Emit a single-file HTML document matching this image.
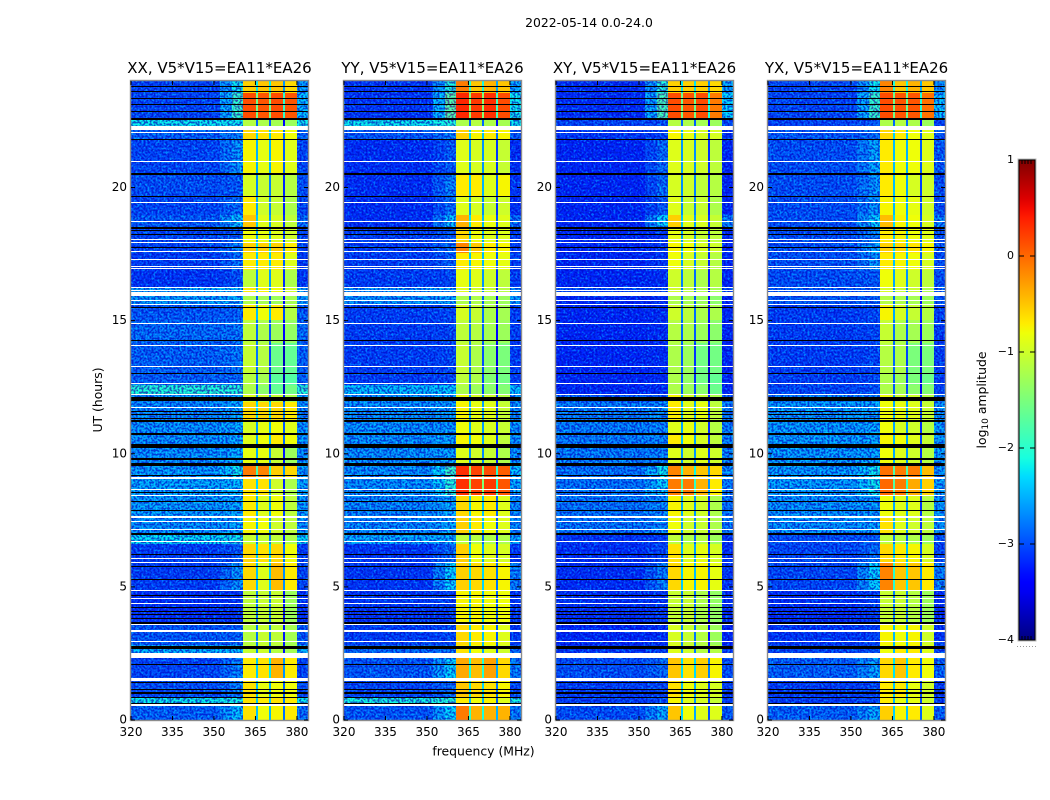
<!DOCTYPE html>
<html lang="en">
<head>
<meta charset="utf-8">
<title>2022-05-14 0.0-24.0</title>
<style>
html,body{margin:0;padding:0;background:#fff;width:1050px;height:800px;overflow:hidden}
svg{display:block}
text{font-family:"DejaVu Sans","Liberation Sans",sans-serif;fill:#000}
</style>
</head>
<body>
<svg id="figure" xmlns="http://www.w3.org/2000/svg" width="1050" height="800" viewBox="0 0 1050 800">
  <defs>
    <filter id="speckle" x="0" y="0" width="100%" height="100%" color-interpolation-filters="sRGB">
      <feTurbulence type="fractalNoise" baseFrequency="0.5" numOctaves="1" seed="7"/>
      <feColorMatrix type="matrix" values="0 0 0 0 0  0 0 0 0 0.32  0 0 0 0 0  6 0 0 0 -2.9"/>
    </filter>
    <filter id="speckle-dark" x="0" y="0" width="100%" height="100%" color-interpolation-filters="sRGB">
      <feTurbulence type="fractalNoise" baseFrequency="0.5" numOctaves="1" seed="23"/>
      <feColorMatrix type="matrix" values="0 0 0 0 1  0 0 0 0 0.35  0 0 0 0 0.85  6 0 0 0 -2.6"/>
    </filter>
    <linearGradient id="jet-gradient" x1="0" y1="1" x2="0" y2="0"></linearGradient>
  </defs>
  <text x="589" y="27" font-size="12.4" text-anchor="middle">2022-05-14 0.0-24.0</text>
  <g id="panels"></g>
  <text x="483.5" y="755.5" font-size="12.4" text-anchor="middle">frequency (MHz)</text>
  <text transform="translate(102,400) rotate(-90)" font-size="12.4" text-anchor="middle">UT (hours)</text>
  <g id="colorbar"></g>
  <text transform="translate(986,400) rotate(-90)" font-size="12.4" text-anchor="middle">log<tspan font-size="9" dy="2">10</tspan><tspan dy="-2"> amplitude</tspan></text>
</svg>
<script>
// ---------- chart data (log10 amplitude) ----------
const panelTitles = ["XX, V5*V15=EA11*EA26","YY, V5*V15=EA11*EA26","XY, V5*V15=EA11*EA26","YX, V5*V15=EA11*EA26"];
const xTickLabels = [320,335,350,365,380];
const yTickLabels = [0,5,10,15,20];
const colorTickLabels = [1,0,-1,-2,-3,-4];

// UT hour at the top of each time band (last entry closes the final band)
const bandHours = [24,23.55,22.54,22.16,21.78,20.54,19.68,18.97,18.48,17.92,17.54,16.9,16.26,16.08,15.62,15.02,14.16,13.03,12.58,12.21,11.94,11.27,10.78,10.25,9.65,9.13,8.45,7.62,6.95,6.61,5.9,4.88,3.57,2.82,2.33,1.5,0.83,0.56,0];

const xxBackground = [-3,-3,-2.2,-2.85,-3,-2.95,-3,-2.9,-3,-3,-3.05,-3.1,-2.5,-2.55,-2.9,-2.8,-2.85,-2.85,-2.1,-2.6,-2.65,-2.6,-2.6,-2.6,-2.55,-2.5,-2.55,-2.6,-2.25,-3.05,-3.05,-3.15,-2.9,-2.45,-3,-2.95,-2.2,-2.85];
const xxEdge = [-2.2,-2,-2.2,-2.7,-2.6,-2.9,-2.8,-2.4,-2.85,-2.7,-2.8,-2.95,-2.45,-2.5,-2.85,-2.75,-2.75,-2.8,-2.1,-2.5,-2.5,-2.5,-2.5,-2.5,-2.2,-2.4,-2.5,-2.5,-2.2,-2.9,-2.6,-3.1,-2.85,-2.4,-2.7,-2.7,-2.15,-2.4];
const xxChannel1 = [-.55,.15,-1.15,-.6,-.75,-.95,-.7,-.5,-.8,-.55,-.7,-1.1,-.7,-1.2,-.7,-1.1,-1.05,-1.15,-1.2,-.9,-.6,-.95,-.9,-.85,-.1,-.65,-.7,-.75,-1.05,-.6,-.6,-1.1,-1.15,-1.05,-.7,-.65,-.65,-.65];
const xxChannel2 = [-.5,.1,-1.2,-.65,-.85,-1.05,-1,-.9,-.85,-.55,-.7,-.9,-.75,-1.25,-.8,-1.2,-1.15,-1.25,-1.4,-1,-.6,-.85,-.8,-.85,-.15,-.65,-.9,-.8,-1.05,-.65,-.9,-1.05,-1.05,-1,-.65,-.85,-.7,-.8];
const xxChannel3 = [-.5,.15,-1.25,-.7,-.75,-1.05,-1.05,-.95,-.9,-.55,-.7,-.9,-.8,-1.3,-.7,-1.3,-1.6,-1.7,-1.65,-1.05,-.6,-.8,-.7,-1.05,-.55,-1,-.8,-1,-1.1,-.6,-.45,-1.05,-1.1,-1.15,-.4,-.8,-.65,-.75];
const xxChannel4 = [-.6,.1,-1.3,-.8,-.9,-1.15,-1.2,-1.1,-1,-.7,-.9,-1.2,-1,-1.25,-1.15,-1.35,-1.65,-1.75,-1.55,-1.2,-.7,-.9,-.8,-1.3,-.6,-1.2,-1.1,-1.1,-1.2,-.8,-.7,-1.3,-1.25,-1.25,-.7,-.8,-.7,-.7];

const yyBackground = [-3.1,-3.1,-2.2,-2.9,-3.15,-3.15,-3.15,-3.15,-3.05,-3.05,-3.05,-3.05,-2.6,-2.6,-3.05,-3.05,-3.05,-3.05,-2.4,-2.6,-2.6,-2.6,-2.6,-2.6,-2.6,-2.6,-2.65,-2.65,-2.5,-3.1,-3.1,-3.1,-3.05,-2.8,-2.9,-3,-2.15,-2.9];
const yyEdge = [-2.1,-1.8,-2.1,-2.7,-2.9,-2.7,-2.8,-2.4,-2.9,-2.8,-2.9,-3,-2.55,-2.55,-3,-3,-3,-3,-2.35,-2.55,-2.55,-2.55,-2.5,-2.5,-2,-2.1,-2.5,-2.5,-2.45,-2.8,-2.3,-3.05,-3,-2.75,-2.3,-2.8,-2.1,-2.3];
const yyChannel1 = [-.1,.35,-1.2,-.55,-.9,-.7,-.9,-.4,-.6,-.15,-.7,-.85,-.9,-1.2,-.95,-1.1,-1.05,-1.1,-1.2,-.8,-.75,-.8,-.75,-.9,.3,.3,-.6,-.55,-1.1,-.55,-.55,-.75,-.6,-.65,-.35,-.5,-.7,-.1];
const yyChannel2 = [-.5,.25,-1.15,-.75,-.95,-.7,-.95,-.7,-.8,-.5,-.75,-.9,-1,-1.2,-1.05,-1.15,-1.2,-1.2,-1.3,-.95,-.85,-.9,-.8,-1,.2,.2,-.75,-.7,-1.15,-.8,-.6,-.75,-.7,-.8,-.45,-.6,-.8,-.4];
const yyChannel3 = [-.4,.3,-1.2,-.7,-.95,-.9,-1.05,-.85,-.9,-.7,-.8,-1,-1.05,-1.25,-1.2,-1.25,-1.4,-1.45,-1.4,-1,-.9,-.95,-.9,-1.05,.15,.25,-.7,-.8,-1.2,-.9,-.65,-.8,-.75,-.9,-.3,-.65,-.75,-.4];
const yyChannel4 = [-.5,.15,-1.25,-.75,-1.05,-.75,-1,-.9,-.9,-.75,-.85,-1.1,-1.15,-1.3,-1.25,-1.3,-1.5,-1.55,-1.45,-1.15,-1.05,-1.05,-1.1,-1.2,.05,.1,-.9,-.9,-1.2,-.95,-.75,-.8,-.9,-1,-.6,-.75,-.9,-.4];

const xyBackground = [-3.15,-3.15,-3,-3.1,-3.2,-3.2,-3.2,-3.2,-3.2,-3.2,-3.2,-3.2,-3,-3.2,-3.2,-3.2,-3.2,-3.2,-3.2,-2.9,-2.7,-2.7,-2.7,-2.7,-2.75,-2.75,-2.75,-2.75,-3.1,-3.15,-3.15,-3.15,-3.2,-3.1,-2.95,-3.05,-3.05,-2.95];
const xyEdge = [-2.1,-1.9,-2.95,-3.05,-2.8,-2.8,-2.9,-2.3,-3.1,-3.1,-3.1,-3.15,-2.95,-3.15,-3.15,-3.15,-3.15,-3.15,-3.15,-2.85,-2.65,-2.65,-2.65,-2.65,-2.2,-2.3,-2.65,-2.65,-3.05,-3,-2.7,-3.1,-3.15,-3.05,-2.8,-3,-3,-2.5];
const xyChannel1 = [-.55,.15,-1.15,-.75,-.9,-.95,-.9,-.55,-.85,-.75,-.8,-1,-1,-1.2,-1,-1.15,-1.2,-1.2,-1.2,-.75,-.7,-.9,-.7,-.9,-.15,-.1,-.75,-.8,-1.1,-.65,-.6,-1.05,-.95,-.9,-.5,-.65,-.75,-.5];
const xyChannel2 = [-.55,.1,-1.2,-.85,-.95,-1,-1.05,-.9,-.95,-.8,-.95,-1.1,-1.1,-1.25,-1.1,-1.2,-1.3,-1.35,-1.3,-.95,-.9,-.85,-.8,-1,-.4,-.1,-.9,-1,-1.2,-.9,-.75,-1.05,-1.05,-1,-.65,-.8,-.9,-.8];
const xyChannel3 = [-.55,.15,-1.25,-.95,-1,-1.1,-1.05,-.95,-1.05,-.95,-1.05,-1.2,-1.2,-1.3,-1.2,-1.3,-1.55,-1.55,-1.4,-1.05,-.85,-1,-.95,-.9,-.5,-.4,-1,-1.05,-1.15,-.85,-.75,-1.2,-1.15,-1.15,-.55,-.9,-.95,-.9];
const xyChannel4 = [-.6,-.1,-1.3,-.95,-1.1,-1.15,-1.2,-1.05,-1.1,-1,-1.15,-1.15,-1.25,-1.4,-1.2,-1.4,-1.55,-1.65,-1.6,-1.2,-1.1,-1.15,-1.1,-1,-.6,-.7,-1.2,-1.2,-1.3,-.95,-.85,-1.35,-1.3,-1.15,-.75,-.95,-1.05,-.9];

const yxBackground = [-3,-3,-3,-2.9,-2.95,-2.95,-2.95,-2.95,-2.95,-2.95,-2.95,-2.95,-2.9,-2.9,-3.05,-3.05,-3.05,-3.05,-3,-2.7,-2.55,-2.55,-2.55,-2.55,-2.55,-2.55,-2.6,-2.6,-2.95,-3,-3,-3.15,-3.1,-3,-2.85,-3.05,-3.05,-2.85];
const yxEdge = [-2.2,-2,-2.9,-2.8,-2.5,-2.6,-2.6,-2.3,-2.7,-2.5,-2.6,-2.9,-2.85,-2.85,-3,-3,-3,-3,-2.95,-2.65,-2.5,-2.5,-2.5,-2.5,-2.2,-2.2,-2.55,-2.55,-2.9,-2.8,-2.3,-3.05,-3.05,-2.95,-2.5,-3,-3,-2.5];
const yxChannel1 = [-.15,.15,-1.2,-.6,-.7,-.7,-.75,-.45,-.7,-.55,-.7,-.8,-.95,-1.15,-.75,-1.05,-1.15,-1.2,-1.2,-.8,-.8,-.8,-.75,-.8,-.05,0,-.8,-.65,-1.1,-.6,-.15,-1.05,-.75,-.8,-.6,-.7,-.7,-.55];
const yxChannel2 = [-.5,.1,-1.15,-.7,-.8,-.8,-.8,-.75,-.75,-.6,-.75,-.9,-1.05,-1.2,-.95,-1.2,-1.2,-1.3,-1.25,-1,-.85,-.95,-.8,-.9,-.1,-.1,-.9,-.9,-1.15,-.7,-.5,-1.05,-.8,-.7,-.5,-.7,-.85,-.75];
const yxChannel3 = [-.4,.1,-1.2,-.8,-.8,-.95,-.85,-.8,-.8,-.65,-.8,-1,-1.05,-1.25,-1.05,-1.25,-1.5,-1.5,-1.4,-1,-.9,-1,-.9,-1,-.1,-.35,-.9,-1,-1.2,-.75,-.5,-1.15,-.75,-.7,-.7,-.85,-.85,-.7];
const yxChannel4 = [-.5,-.05,-1.3,-.9,-.9,-1,-1,-.95,-.9,-.75,-.95,-1.1,-1.2,-1.3,-1.15,-1.3,-1.5,-1.6,-1.45,-1.15,-1.05,-1.15,-1.05,-1.15,-.45,-.55,-1.15,-1.1,-1.3,-.95,-.7,-1.3,-1,-.9,-.8,-1,-1,-.9];

// flagged integrations: UT hour centre and duration in hours
const whiteFlagHours = [22.22,22.05,20.96,19.42,18.74,18.03,17.92,17.58,17.28,17.05,16.94,16.26,16.15,16,15.74,15.62,14.91,14.08,13.26,12.62,12.23,11.72,9.09,8.64,8.45,7.62,7.44,7.17,6.69,6.08,5.9,4.88,4.58,4.39,3.57,3.34,2.93,2.44,1.52,0.56];
const whiteFlagSpans = [.15,.045,.045,.045,.045,.045,.045,.045,.045,.045,.045,.045,.045,.15,.045,.045,.045,.045,.045,.045,.045,.045,.08,.045,.045,.08,.045,.045,.045,.045,.045,.045,.045,.045,.045,.08,.045,.2,.12,.09];
const blackFlagHours = [23.81,23.62,23.36,23.1,22.84,22.57,21.82,20.54,20.47,19.68,18.48,18.38,18.22,17.73,15.51,14.27,13,12.06,11.57,11.46,11.34,11.23,10.74,10.29,9.8,9.58,9.2,8.56,8.19,7.85,6.99,6.23,5.75,5.26,4.69,4.24,4.06,3.96,3.83,3.64,2.74,2.67,2.1,1.39,1.16,1.01,.83,.62];
const blackFlagSpans = [.045,.045,.045,.045,.045,.07,.045,.05,.05,.045,.06,.045,.045,.045,.045,.045,.05,.14,.045,.045,.045,.07,.06,.15,.07,.11,.05,.045,.045,.045,.07,.045,.045,.045,.045,.045,.045,.045,.045,.07,.06,.045,.045,.045,.045,.06,.045,.05];

// ---------- layout and scales ----------
const polarisations = [
  {key:"xx",background:xxBackground,edge:xxEdge,channels:[xxChannel1,xxChannel2,xxChannel3,xxChannel4]},
  {key:"yy",background:yyBackground,edge:yyEdge,channels:[yyChannel1,yyChannel2,yyChannel3,yyChannel4]},
  {key:"xy",background:xyBackground,edge:xyEdge,channels:[xyChannel1,xyChannel2,xyChannel3,xyChannel4]},
  {key:"yx",background:yxBackground,edge:yxEdge,channels:[yxChannel1,yxChannel2,yxChannel3,yxChannel4]}
];
const panelLefts = [131,344,556,768];
const panelWidth = 177, plotTop = 81, plotBottom = 720;
const freqMin = 320, freqMax = 384, hourMax = 24;
const cbarLeft = 1019, cbarRight = 1035, cbarTop = 160, cbarBottom = 640;
const NS = "http://www.w3.org/2000/svg";

function xScale(freq, left){ return left + (freq - freqMin) / (freqMax - freqMin) * panelWidth; }
function yScale(hour){ return plotBottom - hour / hourMax * (plotBottom - plotTop); }
function cbarScale(level){ return cbarBottom - (level + 4) / 5 * (cbarBottom - cbarTop); }

function ramp(t, pts){
  for (let i = 1; i < pts.length; i++) {
    if (t <= pts[i][0]) {
      const a = pts[i-1], b = pts[i];
      return a[1] + (t - a[0]) / (b[0] - a[0]) * (b[1] - a[1]);
    }
  }
  return pts[pts.length-1][1];
}
function jet(level){
  const t = Math.max(0, Math.min(1, (level + 4) / 5));
  const r = ramp(t, [[0,0],[.35,0],[.66,1],[.89,1],[1,.5]]);
  const g = ramp(t, [[0,0],[.125,0],[.375,1],[.64,1],[.91,0],[1,0]]);
  const b = ramp(t, [[0,.5],[.11,1],[.34,1],[.65,0],[1,0]]);
  return "rgb(" + Math.round(r*255) + "," + Math.round(g*255) + "," + Math.round(b*255) + ")";
}
function svgEl(tag, attrs, parent){
  const el = document.createElementNS(NS, tag);
  for (const k in attrs) el.setAttribute(k, attrs[k]);
  parent.appendChild(el);
  return el;
}
// whole-pixel height of a flagged row so thin rows stay one crisp pixel
function rowHeight(span){ return Math.max(1, Math.round(span / hourMax * (plotBottom - plotTop))); }

// ---------- panels ----------
const panelsGroup = document.getElementById("panels");
polarisations.forEach(function(pol, p){
  const left = panelLefts[p];
  const g = svgEl("g", {}, panelsGroup);
  
  

  const title = svgEl("text", {x:left + panelWidth/2, y:73, "font-size":15, "text-anchor":"middle"}, g);
  title.textContent = panelTitles[p];
  
  

  const heat = svgEl("g", {"shape-rendering":"crispEdges"}, g);
  
  

  for (let b = 0; b < bandHours.length - 1; b++) {
    const c = pol.channels;
    const bg = pol.background[b], ed = pol.edge[b];
    // frequency segments [from MHz, to MHz, level]
    const segments = [
      [320, 352, bg],
      [352, 356.5, (bg + ed) / 2],
      [356.5, 360.6, ed],
      [360.6, 365.07, c[0][b]],
      [365.07, 365.8, (c[0][b] + c[1][b]) / 2 - 1.7],
      [365.8, 369.9, c[1][b]],
      [369.9, 370.7, (c[1][b] + c[2][b]) / 2 - 1.7],
      [370.7, 374.9, c[2][b]],
      [374.9, 375.65, (c[2][b] + c[3][b]) / 2 - 2.1],
      [375.65, 380, c[3][b]],
      [380, 384, Math.max(bg, ed - 0.4)]
    ];
    const yTop = yScale(bandHours[b]);
    const yBot = yScale(bandHours[b+1]);
    segments.forEach(function(s){
      const x0 = Math.round(xScale(s[0], left)), x1 = Math.round(xScale(s[1], left));
      const cell = svgEl("rect", {x:x0, y:Math.round(yTop), width:x1-x0, height:Math.round(yBot)-Math.round(yTop), fill:jet(s[2])}, heat);
      
      
    });
  }

  // measurement-noise texture over the off-band background (visual only)
  [[320,360.6],[380,384]].forEach(function(r){
    const x0 = Math.round(xScale(r[0],left)), x1 = Math.round(xScale(r[1],left));
    const lighter = svgEl("rect", {x:x0, y:plotTop, width:x1-x0, height:plotBottom-plotTop, filter:"url(#speckle)", style:"mix-blend-mode:screen"}, g);
    
    
    const darker = svgEl("rect", {x:x0, y:plotTop, width:x1-x0, height:plotBottom-plotTop, filter:"url(#speckle-dark)", style:"mix-blend-mode:multiply"}, g);
    
    
  });

  const flags = svgEl("g", {"shape-rendering":"crispEdges"}, g);
  
  
  whiteFlagHours.forEach(function(h, i){
    const hgt = rowHeight(whiteFlagSpans[i]);
    const row = svgEl("rect", {x:left, y:Math.round(yScale(h) - hgt / 2), width:panelWidth, height:hgt, fill:"#fff"}, flags);
    
    
  });
  blackFlagHours.forEach(function(h, i){
    const hgt = rowHeight(blackFlagSpans[i]);
    const row = svgEl("rect", {x:left, y:Math.round(yScale(h) - hgt / 2), width:panelWidth, height:hgt, fill:"#000"}, flags);
    
    
  });

  const frame = svgEl("rect", {x:left-0.5, y:plotTop-0.5, width:panelWidth+1, height:plotBottom-plotTop+1, fill:"none", stroke:"#8c8c8c", "stroke-width":1.4}, g);
  
  

  xTickLabels.forEach(function(v){
    const x = xScale(v, left);
    [[plotBottom, plotBottom-4],[plotTop, plotTop+4]].forEach(function(t){
      const tick = svgEl("line", {x1:x, x2:x, y1:t[0], y2:t[1], stroke:"#000", "stroke-width":1}, g);
      
      
    });
    const label = svgEl("text", {x:x, y:736, "font-size":12, "text-anchor":"middle"}, g);
    label.textContent = v;
    
    
  });
  yTickLabels.forEach(function(v){
    const y = yScale(v);
    [[left, left+4],[left+panelWidth, left+panelWidth-4]].forEach(function(t){
      const tick = svgEl("line", {x1:t[0], x2:t[1], y1:y, y2:y, stroke:"#000", "stroke-width":1}, g);
      
      
    });
    const label = svgEl("text", {x:left-4, y:y+3.5, "font-size":12, "text-anchor":"end"}, g);
    label.textContent = v;
    
    
  });
});

// ---------- colour bar ----------
const gradient = document.getElementById("jet-gradient");
for (let i = 0; i <= 50; i++) {
  svgEl("stop", {offset:(i/50*100)+"%", "stop-color":jet(-4 + i/10)}, gradient);
}
const cbarGroup = document.getElementById("colorbar");
const cbarBody = svgEl("rect", {x:cbarLeft, y:cbarTop, width:cbarRight-cbarLeft, height:cbarBottom-cbarTop, fill:"url(#jet-gradient)"}, cbarGroup);


const cbarHalo = svgEl("rect", {x:cbarLeft-1, y:cbarTop-1, width:cbarRight-cbarLeft+2, height:cbarBottom-cbarTop+2, fill:"none", stroke:"#bbb", "stroke-width":1}, cbarGroup);


const cbarFrame = svgEl("rect", {x:cbarLeft, y:cbarTop, width:cbarRight-cbarLeft, height:cbarBottom-cbarTop, fill:"none", stroke:"#000", "stroke-width":1}, cbarGroup);


colorTickLabels.forEach(function(v){
  const y = cbarScale(v);
  [[cbarLeft, cbarLeft+5],[cbarRight, cbarRight-5]].forEach(function(t){
    const tick = svgEl("line", {x1:t[0], x2:t[1], y1:y, y2:y, stroke:"#000", "stroke-width":1}, cbarGroup);
    
    
  });
  const label = svgEl("text", {x:1014, y:y+3, "font-size":11, "text-anchor":"end"}, cbarGroup);
  label.textContent = String(v).replace("-", "\u2212");
  
  
});
[3,6,9,12].forEach(function(dx){
  [[cbarTop, cbarTop+4],[cbarBottom, cbarBottom-4]].forEach(function(t){
    const tick = svgEl("line", {x1:cbarLeft+dx, x2:cbarLeft+dx, y1:t[0], y2:t[1], stroke:"#000", "stroke-width":1}, cbarGroup);
    
    
  });
});
[0,3,6,9,12,15,18].forEach(function(dx){
  const dot = svgEl("rect", {x:1017+dx, y:646, width:1, height:1, fill:"#999"}, cbarGroup);
  
  
});
</script>
</body>
</html>
